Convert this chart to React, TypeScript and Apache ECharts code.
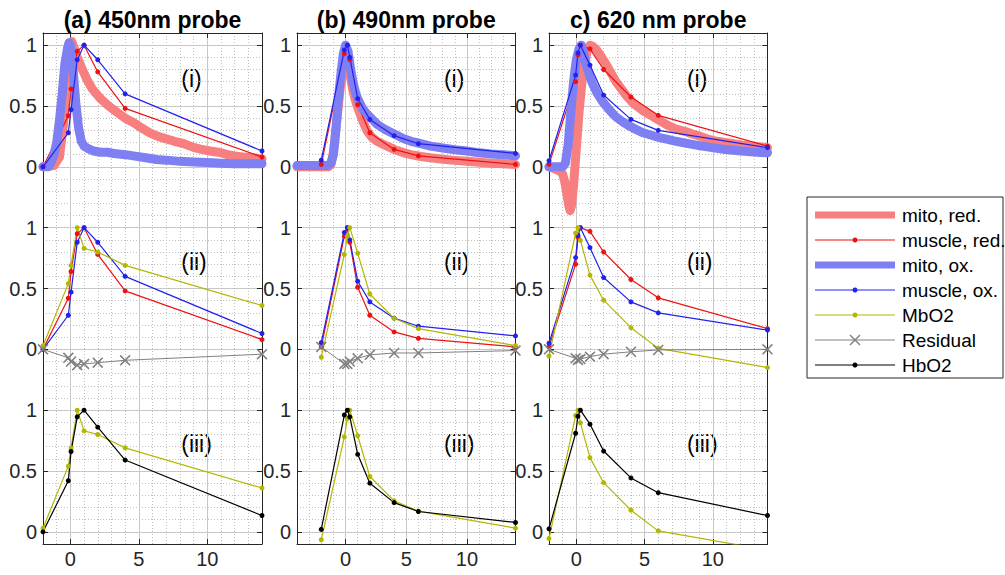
import React, { useEffect, useRef } from "react";
import * as echarts from "echarts";

// ---------- DATA ----------
// sample times (min) of the muscle measurements, per probe
const TIME_A = [-2, -0.15, 0.05, 0.5, 1, 2, 4, 14];
const TIME_B = [-2, -0.1, 0.15, 0.35, 1, 2, 4, 6, 14];
const TIME_C = [-2, -0.05, 0.12, 0.3, 1, 2, 4, 6, 14];

// (a) 450nm probe
const MUSCLE_RED_A = [0.0, 0.42, 0.64, 0.95, 1.0, 0.78, 0.48, 0.08];
const MUSCLE_OX_A = [0.0, 0.28, 0.47, 0.88, 1.0, 0.88, 0.6, 0.13];
const MBO2_A = [0.03, 0.54, 0.69, 1.0, 0.83, 0.8, 0.69, 0.36];
const RESIDUAL_A = [0.0, -0.07, -0.1, -0.13, -0.12, -0.11, -0.09, -0.04];
const HBO2_A = [0.0, 0.42, 0.66, 0.945, 1.0, 0.86, 0.59, 0.134];

// (b) 490nm probe
const MUSCLE_RED_B = [0.02, 0.93, 1.0, 0.88, 0.51, 0.28, 0.143, 0.09, 0.02];
const MUSCLE_OX_B = [0.055, 0.96, 1.0, 0.9, 0.56, 0.39, 0.256, 0.19, 0.11];
const MBO2_B = [-0.065, 0.78, 0.93, 1.0, 0.79, 0.455, 0.255, 0.17, 0.03];
const RESIDUAL_B = [0.02, -0.12, -0.12, -0.1, -0.074, -0.045, -0.03, -0.03, -0.01];
const HBO2_B = [0.02, 0.96, 1.0, 0.945, 0.637, 0.4, 0.24, 0.167, 0.077];

// (c) 620nm probe
const MUSCLE_RED_C = [0.02, 0.7, 0.92, 1.0, 0.97, 0.8, 0.574, 0.423, 0.17];
const MUSCLE_OX_C = [0.05, 0.754, 0.937, 1.0, 0.836, 0.59, 0.39, 0.3, 0.158];
const MBO2_C = [-0.055, 0.956, 1.0, 0.896, 0.61, 0.404, 0.178, 0.008, -0.15];
const RESIDUAL_C = [0.0, -0.074, -0.087, -0.08, -0.06, -0.04, -0.02, -0.005, 0.0];
const HBO2_C = [0.025, 0.81, 0.95, 1.0, 0.885, 0.664, 0.443, 0.322, 0.134];

// mitochondria traces (time, value)
const MITO_OX_A_T = [-2, -1.6, -1.4, -1.2, -1.0, -0.8, -0.6, -0.4, -0.2, -0.1, 0.0, 0.2, 0.4, 0.6, 0.8, 1.0, 1.3, 1.7, 2.2, 2.7, 3.2, 4.0, 4.6, 5.5, 6.3, 7.0, 8.0, 9.0, 10.0, 11.0, 12.0, 13.0, 14.0];
const MITO_OX_A = [0.0, 0.0, 0.04, 0.1, 0.2, 0.38, 0.6, 0.85, 0.98, 1.02, 1.0, 0.8, 0.52, 0.32, 0.21, 0.17, 0.15, 0.13, 0.12, 0.12, 0.11, 0.1, 0.09, 0.075, 0.06, 0.055, 0.045, 0.04, 0.035, 0.03, 0.025, 0.025, 0.025];
const MITO_RED_A_T = [-2, -1.2, -0.8, -0.5, -0.3, -0.1, 0.1, 0.3, 0.5, 0.8, 1.2, 1.6, 2.2, 2.8, 3.4, 4.0, 4.6, 5.2, 5.8, 6.4, 7.0, 7.6, 8.3, 9.0, 9.5, 10.2, 10.8, 11.5, 12.0, 12.7, 13.3, 14.0];
const MITO_RED_A = [0.0, 0.01, 0.08, 0.35, 0.7, 0.97, 1.03, 0.97, 0.9, 0.82, 0.72, 0.64, 0.56, 0.5, 0.45, 0.4, 0.365, 0.32, 0.28, 0.25, 0.23, 0.21, 0.19, 0.16, 0.145, 0.13, 0.12, 0.1, 0.09, 0.08, 0.075, 0.065];

const MITO_OX_B_T = [-4, -3, -2, -1.5, -1.2, -1.0, -0.8, -0.6, -0.4, -0.2, 0, 0.2, 0.4, 0.6, 0.8, 1.0, 1.4, 1.8, 2.2, 2.6, 3.2, 4.0, 4.8, 5.4, 6.2, 7.0, 8.0, 9.0, 10, 11, 12, 13, 14];
const MITO_OX_B = [0.01, 0.01, 0.01, 0.01, 0.03, 0.1, 0.3, 0.55, 0.75, 0.92, 1.0, 0.95, 0.82, 0.7, 0.62, 0.56, 0.48, 0.43, 0.39, 0.35, 0.31, 0.27, 0.23, 0.21, 0.19, 0.17, 0.155, 0.14, 0.13, 0.115, 0.105, 0.1, 0.09];
const MITO_RED_B_T = [-4, -2, -1.4, -1.2, -1.0, -0.8, -0.6, -0.4, -0.2, 0, 0.2, 0.4, 0.6, 0.8, 1.0, 1.4, 1.8, 2.2, 2.6, 3.2, 4.0, 4.8, 5.4, 6.2, 7.0, 8.0, 9.0, 10, 11, 12, 13, 14];
const MITO_RED_B = [0.0, 0.0, 0.0, 0.02, 0.12, 0.3, 0.5, 0.68, 0.8, 0.86, 0.83, 0.74, 0.63, 0.55, 0.49, 0.38, 0.29, 0.24, 0.21, 0.18, 0.143, 0.115, 0.1, 0.085, 0.074, 0.063, 0.053, 0.045, 0.037, 0.03, 0.025, 0.02];

const MITO_OX_C_T = [-2, -1.5, -1.0, -0.8, -0.6, -0.4, -0.2, 0, 0.2, 0.36, 0.5, 0.7, 1.0, 1.2, 1.5, 1.9, 2.4, 2.9, 3.4, 3.9, 4.4, 4.9, 5.5, 6.1, 6.7, 7.3, 8.0, 8.5, 9.1, 9.7, 10.3, 10.9, 11.5, 12.1, 13.0, 14.0];
const MITO_OX_C = [0.0, 0.0, 0.0, 0.03, 0.18, 0.45, 0.7, 0.88, 0.97, 1.0, 0.95, 0.85, 0.74, 0.68, 0.61, 0.54, 0.47, 0.41, 0.37, 0.335, 0.305, 0.28, 0.26, 0.24, 0.225, 0.21, 0.195, 0.185, 0.172, 0.162, 0.152, 0.143, 0.137, 0.13, 0.122, 0.115];
const MITO_RED_C_T = [-2, -1.5, -1.2, -1.0, -0.85, -0.7, -0.55, -0.45, -0.35, -0.2, 0, 0.2, 0.4, 0.6, 0.8, 1.0, 1.2, 1.5, 1.8, 2.2, 2.6, 2.9, 3.3, 3.7, 4.2, 4.9, 5.5, 6.1, 6.7, 7.3, 8.0, 8.5, 9.1, 9.7, 10.3, 10.9, 11.5, 12.1, 13.0, 14.0];
const MITO_RED_C = [0.0, -0.02, -0.035, -0.06, -0.12, -0.22, -0.32, -0.36, -0.32, -0.15, 0.15, 0.45, 0.68, 0.85, 0.95, 1.0, 0.99, 0.96, 0.91, 0.84, 0.76, 0.7, 0.64, 0.58, 0.52, 0.46, 0.42, 0.38, 0.34, 0.31, 0.29, 0.27, 0.25, 0.225, 0.21, 0.2, 0.19, 0.18, 0.168, 0.157];

const TITLES = ["(a) 450nm probe", "(b) 490nm probe", "c) 620 nm probe"];
const ROW_LABELS = ["(i)", "(ii)", "(iii)"];
const X_TICKS = [0, 5, 10];
const Y_TICKS = [0, 0.5, 1, 1.5, 2, 2.5, 3, 3.5, 4];
const LEGEND_NAMES = ["mito, red.", "muscle, red.", "mito, ox.", "muscle, ox.", "MbO2", "Residual", "HbO2"];

// ---------- STYLE / LAYOUT ----------
const ROW_OFFSETS = [3, 1.5, 0];
const X_RANGES = [[-2, 14], [-4, 14], [-2, 14]];
const Y_RANGE = [-0.1, 4.1];
const GRID_LEFTS = [43, 297, 549];
const GRID_WIDTHS = [219, 218.5, 218.5];
const GRID_TOP = 33;
const GRID_HEIGHT = 511;
const FONT = '"Liberation Sans", Arial, sans-serif';
const AXIS_COLOR = "#262626";
const MAJOR_GRID = "#cccccc";
const MINOR_GRID = "#bfbfbf";

const C_MITO_RED = "#f77f7f";
const C_MUSCLE_RED = "#ee1111";
const C_MITO_OX = "#7f7ff4";
const C_MUSCLE_OX = "#2222ee";
const C_MBO2 = "#b3b700";
const C_RES = "#808080";
const C_HBO2 = "#000000";

const X_SYMBOL = "path://M0,1L1,0L5,4L9,0L10,1L6,5L10,9L9,10L5,6L1,10L0,9L4,5Z";

const COLS = [
  { t: TIME_A, mr: MUSCLE_RED_A, mo: MUSCLE_OX_A, mb: MBO2_A, res: RESIDUAL_A, hb: HBO2_A,
    mitoRedT: MITO_RED_A_T, mitoRed: MITO_RED_A, mitoOxT: MITO_OX_A_T, mitoOx: MITO_OX_A },
  { t: TIME_B, mr: MUSCLE_RED_B, mo: MUSCLE_OX_B, mb: MBO2_B, res: RESIDUAL_B, hb: HBO2_B,
    mitoRedT: MITO_RED_B_T, mitoRed: MITO_RED_B, mitoOxT: MITO_OX_B_T, mitoOx: MITO_OX_B },
  { t: TIME_C, mr: MUSCLE_RED_C, mo: MUSCLE_OX_C, mb: MBO2_C, res: RESIDUAL_C, hb: HBO2_C,
    mitoRedT: MITO_RED_C_T, mitoRed: MITO_RED_C, mitoOxT: MITO_OX_C_T, mitoOx: MITO_OX_C },
];

function pairs(xs: number[], ys: number[], off: number) {
  return xs.map((x, i) => [x, Math.round((ys[i] + off) * 10000) / 10000]);
}

function buildOption() {
  const grid: any[] = [];
  const xAxis: any[] = [];
  const yAxis: any[] = [];
  const series: any[] = [];
  const graphic: any[] = [];

  COLS.forEach((col, c) => {
    grid.push({ left: GRID_LEFTS[c], top: GRID_TOP, width: GRID_WIDTHS[c], height: GRID_HEIGHT });
    const [xmin, xmax] = X_RANGES[c];
    // major x bottom
    xAxis.push({
      gridIndex: c, type: "value", position: "bottom", min: xmin, max: xmax,
      axisLine: { show: true, onZero: false, lineStyle: { color: AXIS_COLOR, width: 1 } },
      axisTick: { show: true, inside: true, length: 5, customValues: X_TICKS, lineStyle: { color: AXIS_COLOR } },
      axisLabel: { show: true, customValues: X_TICKS, color: AXIS_COLOR, fontSize: 20, fontFamily: FONT, margin: 5 },
      splitLine: { show: false },
    });
    // major x top
    xAxis.push({
      gridIndex: c, type: "value", position: "top", min: xmin, max: xmax,
      axisLine: { show: true, onZero: false, lineStyle: { color: AXIS_COLOR, width: 1 } },
      axisTick: { show: true, inside: true, length: 5, customValues: X_TICKS, lineStyle: { color: AXIS_COLOR } },
      axisLabel: { show: false, customValues: X_TICKS },
      splitLine: { show: true, lineStyle: { color: MAJOR_GRID, width: 1 } },
    });
    // minor x
    xAxis.push({
      gridIndex: c, type: "value", position: "bottom", min: xmin, max: xmax, interval: 1,
      axisLine: { show: false }, axisTick: { show: false }, axisLabel: { show: false },
      splitLine: { show: true, lineStyle: { color: MINOR_GRID, width: 1, type: [1, 2] } },
    });
    // major y left
    yAxis.push({
      gridIndex: c, type: "value", position: "left", min: Y_RANGE[0], max: Y_RANGE[1],
      axisLine: { show: true, onZero: false, lineStyle: { color: AXIS_COLOR, width: 1 } },
      axisTick: { show: true, inside: true, length: 5, customValues: Y_TICKS, lineStyle: { color: AXIS_COLOR } },
      axisLabel: {
        show: true, customValues: Y_TICKS, color: AXIS_COLOR, fontSize: 20, fontFamily: FONT, margin: 6,
        formatter: (v: number) => {
          const r = (Math.round(v * 10) % 15) / 10;
          return String(r);
        },
      },
      splitLine: { show: false },
    });
    // major y right
    yAxis.push({
      gridIndex: c, type: "value", position: "right", min: Y_RANGE[0], max: Y_RANGE[1],
      axisLine: { show: true, onZero: false, lineStyle: { color: AXIS_COLOR, width: 1 } },
      axisTick: { show: true, inside: true, length: 5, customValues: Y_TICKS, lineStyle: { color: AXIS_COLOR } },
      axisLabel: { show: false, customValues: Y_TICKS },
      splitLine: { show: true, lineStyle: { color: MAJOR_GRID, width: 1 } },
    });
    // minor y
    yAxis.push({
      gridIndex: c, type: "value", position: "left", min: Y_RANGE[0], max: Y_RANGE[1], interval: 0.1,
      axisLine: { show: false }, axisTick: { show: false }, axisLabel: { show: false },
      splitLine: { show: true, lineStyle: { color: MINOR_GRID, width: 1, type: [1, 2] } },
    });

    const xi = 3 * c;
    const yi = 3 * c;
    const base = { type: "line", xAxisIndex: xi, yAxisIndex: yi, clip: true, silent: true };
    const dotLine = (name: string, color: string, xs: number[], ys: number[], off: number) => ({
      ...base, name, data: pairs(xs, ys, off), symbol: "circle", symbolSize: 5,
      itemStyle: { color }, lineStyle: { color, width: 1.2 },
    });
    const thick = (name: string, color: string, xs: number[], ys: number[], off: number) => ({
      ...base, name, data: pairs(xs, ys, off), symbol: "none", showSymbol: false,
      lineStyle: { color, width: 9, cap: "round", join: "round" },
    });
    const [o1, o2, o3] = ROW_OFFSETS;
    // row (i)
    series.push(thick("mito, red.", C_MITO_RED, col.mitoRedT, col.mitoRed, o1));
    series.push(dotLine("muscle, red.", C_MUSCLE_RED, col.t, col.mr, o1));
    series.push(thick("mito, ox.", C_MITO_OX, col.mitoOxT, col.mitoOx, o1));
    series.push(dotLine("muscle, ox.", C_MUSCLE_OX, col.t, col.mo, o1));
    // row (ii)
    series.push(dotLine("muscle, red.", C_MUSCLE_RED, col.t, col.mr, o2));
    series.push(dotLine("muscle, ox.", C_MUSCLE_OX, col.t, col.mo, o2));
    series.push(dotLine("MbO2", C_MBO2, col.t, col.mb, o2));
    series.push({
      ...base, name: "Residual", data: pairs(col.t, col.res, o2), symbol: X_SYMBOL, symbolSize: 11,
      itemStyle: { color: C_RES }, lineStyle: { color: C_RES, width: 1 },
    });
    // row (iii)
    series.push(dotLine("MbO2", C_MBO2, col.t, col.mb, o3));
    series.push(dotLine("HbO2", C_HBO2, col.t, col.hb, o3));

    // titles
    graphic.push({
      type: "text", x: GRID_LEFTS[c] + GRID_WIDTHS[c] / 2, y: 20,
      style: { text: TITLES[c], fontSize: 23, fontWeight: "bold", fontFamily: FONT, fill: "#000", align: "center", verticalAlign: "middle" },
    });
    // row labels
    const pxPerX = GRID_WIDTHS[c] / (xmax - xmin);
    const pxPerY = GRID_HEIGHT / (Y_RANGE[1] - Y_RANGE[0]);
    ROW_LABELS.forEach((lab, r) => {
      graphic.push({
        type: "text",
        x: GRID_LEFTS[c] + (8.1 - xmin) * pxPerX,
        y: GRID_TOP + (Y_RANGE[1] - (ROW_OFFSETS[r] + 0.72)) * pxPerY,
        style: { text: lab, fontSize: 23, fontFamily: FONT, fill: "#000", align: "left", verticalAlign: "middle" },
      });
    });
  });

  // legend box
  const LX = 807, LY = 197, LW = 196, LH = 181;
  graphic.push({ type: "rect", shape: { x: LX, y: LY, width: LW, height: LH }, style: { fill: "#fff", stroke: AXIS_COLOR, lineWidth: 1 }, z: 10 });
  const legendStyles = [
    { color: C_MITO_RED, w: 7, m: "none" },
    { color: C_MUSCLE_RED, w: 1.2, m: "dot" },
    { color: C_MITO_OX, w: 7, m: "none" },
    { color: C_MUSCLE_OX, w: 1.2, m: "dot" },
    { color: C_MBO2, w: 1.2, m: "dot" },
    { color: C_RES, w: 1, m: "x" },
    { color: C_HBO2, w: 1.2, m: "dot" },
  ];
  LEGEND_NAMES.forEach((name, k) => {
    const cy = 215 + 25 * k;
    const st = legendStyles[k];
    graphic.push({ type: "line", shape: { x1: 815, y1: cy, x2: 895, y2: cy }, style: { stroke: st.color, lineWidth: st.w, lineCap: "butt" }, z: 11 });
    if (st.m === "dot") {
      graphic.push({ type: "circle", shape: { cx: 855, cy, r: 2.5 }, style: { fill: st.color }, z: 12 });
    } else if (st.m === "x") {
      graphic.push({ type: "line", shape: { x1: 850, y1: cy - 5, x2: 860, y2: cy + 5 }, style: { stroke: st.color, lineWidth: 1.4 }, z: 12 });
      graphic.push({ type: "line", shape: { x1: 850, y1: cy + 5, x2: 860, y2: cy - 5 }, style: { stroke: st.color, lineWidth: 1.4 }, z: 12 });
    }
    graphic.push({
      type: "text", x: 902, y: cy, z: 12,
      style: { text: name, fontSize: 19, fontFamily: FONT, fill: "#000", align: "left", verticalAlign: "middle" },
    });
  });

  return { animation: false, backgroundColor: "#fff", grid, xAxis, yAxis, series, graphic };
}

export default function App() {
  const ref = useRef<HTMLDivElement>(null);
  useEffect(() => {
    if (!ref.current) return;
    const chart = echarts.init(ref.current, undefined, { renderer: "svg" });
    chart.setOption(buildOption() as any);
    return () => chart.dispose();
  }, []);
  return (
    <div
      ref={ref}
      style={{ position: "fixed", left: 0, top: 0, width: "1005px", height: "575px", background: "#fff" }}
    />
  );
}
